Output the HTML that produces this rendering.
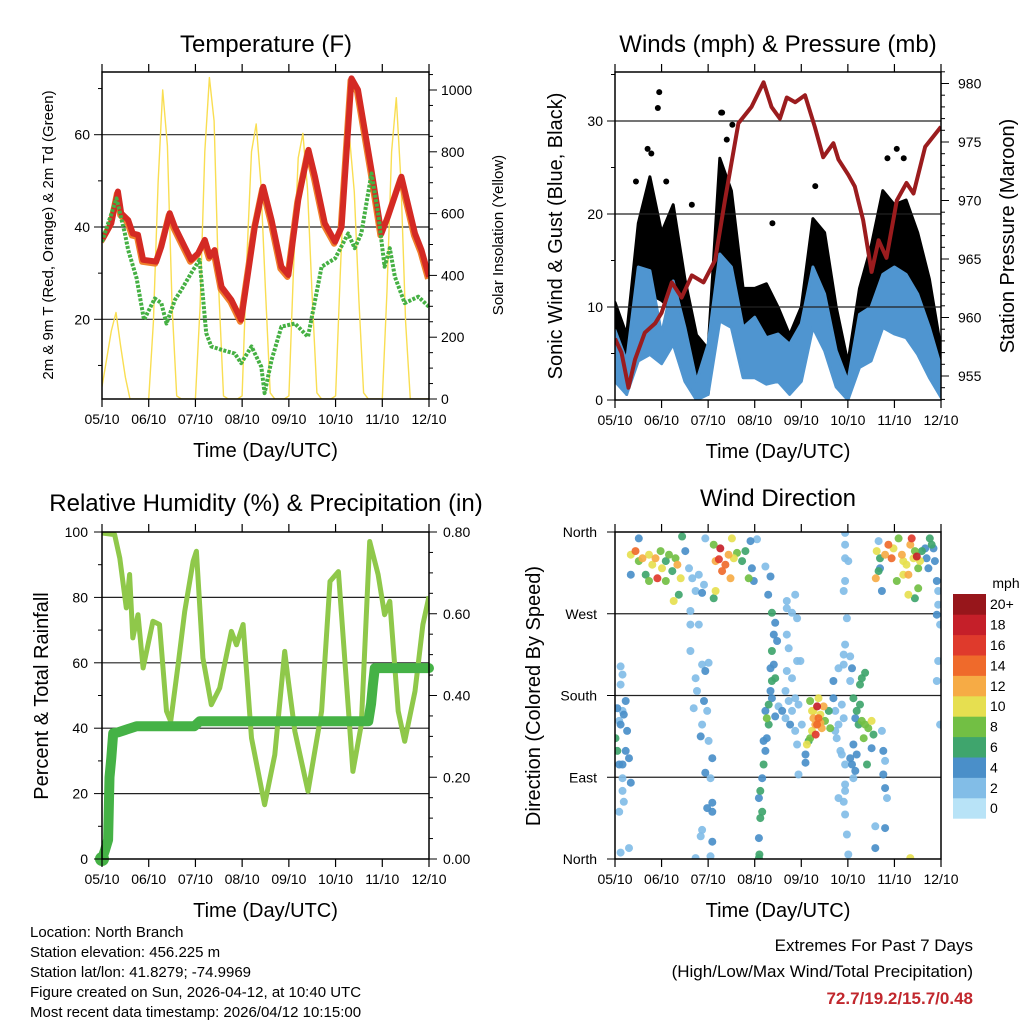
<!DOCTYPE html>
<html><head><meta charset="utf-8">
<style>
html,body{margin:0;padding:0;background:#fff;}
svg{display:block;font-family:"Liberation Sans",sans-serif;}
</style></head>
<body>
<svg id="chart" width="1024" height="1024" viewBox="0 0 1024 1024" xmlns="http://www.w3.org/2000/svg">
<defs>
<clipPath id="c1"><rect x="102" y="72" width="327" height="327"/></clipPath>
<clipPath id="c2"><rect x="615" y="72" width="326" height="328"/></clipPath>
<clipPath id="c3"><rect x="102" y="532" width="327" height="327"/></clipPath>
<clipPath id="c4"><rect x="615" y="532" width="326" height="327"/></clipPath>
</defs>
<g id="g1"></g>
<g id="g2"></g>
<g id="g3"></g>
<g id="g4"></g>
<g font-size="15" fill="#000">
<text x="30" y="937">Location: North Branch</text>
<text x="30" y="957">Station elevation: 456.225 m</text>
<text x="30" y="977">Station lat/lon: 41.8279; -74.9969</text>
<text x="30" y="997">Figure created on Sun, 2026-04-12, at 10:40 UTC</text>
<text x="30" y="1017">Most recent data timestamp: 2026/04/12 10:15:00</text>
</g>
<g text-anchor="end" font-size="17">
<text x="973" y="951">Extremes For Past 7 Days</text>
<text x="973" y="977">(High/Low/Max Wind/Total Precipitation)</text>
<text x="973" y="1004" font-weight="bold" fill="#c1272d">72.7/19.2/15.7/0.48</text>
</g>
</svg>
<script>
// ---------- data ----------
const xTickLabels = ["05/10","06/10","07/10","08/10","09/10","10/10","11/10","12/10"];
const tempDays = [0,0.2,0.34,0.41,0.56,0.66,0.77,0.88,1.16,1.27,1.45,1.56,1.77,1.91,2.06,2.2,2.31,2.41,2.56,2.77,2.98,3.27,3.45,3.63,3.84,3.99,4.2,4.42,4.56,4.77,4.99,5.13,5.34,5.48,5.77,5.98,6.12,6.41,6.7,6.84,7];
const tempRed = [37.2,40.8,47.7,43,41.5,38.6,38.3,32.9,32.5,35.7,43,40,35.7,32.9,34.3,37.2,33.6,35,27,24.2,19.9,40,48.7,41.5,31.4,29.6,45.8,56.7,50.9,40.8,36.8,40,72.2,69.7,52.3,38.6,42.2,50.9,38.6,35,29.2];
const dewDays = [0,0.31,0.49,0.56,0.74,0.9,1.13,1.27,1.38,1.56,1.7,1.91,2.09,2.23,2.34,2.56,2.84,2.98,3.2,3.41,3.48,3.63,3.84,4.13,4.41,4.7,4.99,5.27,5.41,5.55,5.77,5.91,6.05,6.16,6.27,6.48,6.77,7];
const dewGreen = [36.8,46.2,38.6,35,28.9,19.9,24.5,23.5,19.1,24.2,26.4,30,32.9,17,14.1,13.4,12.6,10.5,14.1,9.7,4,11.2,18.4,19.1,16.2,31.4,33.2,38.6,35.4,38.6,51.6,43,31.4,35.4,29.2,23.5,24.9,22.7];
const solarVals = [40,130,220,280,170,70,0,0,0,0,
 0,250,700,1000,820,300,10,0,0,0,
 0,300,800,1040,900,350,10,0,0,0,
 10,450,800,890,700,350,20,0,0,0,
 10,420,780,860,680,330,20,0,0,0,
 10,400,760,845,670,320,20,0,0,0,
 0,350,800,975,700,250,0,0,0,0,0];
const tempTicks = [20,40,60];
const solarTicks = [0,200,400,600,800,1000];

const windDays = [0,0.25,0.5,0.75,1,1.25,1.5,1.75,2,2.25,2.5,2.75,3,3.25,3.5,3.75,4,4.25,4.5,4.75,5,5.25,5.5,5.75,6,6.25,6.5,6.75,7];
const sustHi = [7.5,4.2,14.3,13.9,7.1,12.8,7.8,2,6,15.7,14.3,7.8,8.9,6.7,7.1,6,8.2,14.3,11.4,5.3,2,9.2,10,13.5,14.3,13.5,11.4,7.8,3.5];
const sustLo = [2,0.6,4.2,4.9,3.9,6,2,0,0.6,8.5,7.8,2.4,2.4,1.7,2,0.6,2,7.8,5.3,1.4,0,3.5,4.2,7.8,7.1,6.7,4.9,2.4,0.3];
const gustHi = [10.5,7,19,24,18,21,13,7,5.5,26,22.5,12,12,12.5,10,7,10,19.5,18,10,4,12,16.5,22.5,21,21.5,18,13,5.5];
const gustLo = [4.2,0.6,7.8,11.4,10.7,9.6,4.9,0.6,0.6,13.2,11.4,6,6,7.1,4.2,2.4,4.2,11.4,9.6,4.2,0.6,4.2,8.5,13.2,11.4,11.4,9.6,6,0.6];
const gustOutDays = [0.95,0.92,0.78,2.3,2.28,2.52,3.38,1.65,6.2,6.05,0.45,0.7,1.1,2.4,4.3,5.85];
const gustOutVals = [33.1,31.4,26.5,30.9,30.9,29.6,19,21,26,27,23.5,27,23.5,28,23,26];
const presDays = [0,0.14,0.29,0.43,0.64,0.86,1,1.22,1.43,1.65,1.9,2.15,2.36,2.65,2.93,3.19,3.36,3.54,3.69,3.87,4.08,4.29,4.47,4.69,4.8,5.01,5.15,5.33,5.51,5.66,5.83,6.05,6.26,6.41,6.66,7];
const presVals = [958.2,957,954,956.4,958.7,959.5,960.4,963,961.7,963.6,963,964.9,970,976.6,978,980.1,978,977,978.8,978.4,979,976.3,973.7,974.9,973.5,972.2,971.2,968.3,963.9,966.6,965.1,970,971.5,970.6,974.6,976.3];
const windTicks = [0,10,20,30];
const presTicks = [955,960,965,970,975,980];

const rhDays = [0,0.27,0.38,0.52,0.59,0.66,0.77,0.88,1.09,1.23,1.38,1.47,1.63,1.77,1.95,2.02,2.16,2.34,2.52,2.77,2.88,3.02,3.2,3.48,3.7,3.91,3.98,4.13,4.41,4.7,4.88,5.06,5.37,5.55,5.73,5.91,6.05,6.16,6.34,6.48,6.7,6.87,7];
const rhVals = [99.7,99.2,92,76.8,87,67.6,74.7,58.4,72.7,71.7,45.2,42.1,59.4,75.7,91,94.1,61.5,47.2,52.3,69.6,65.5,71.7,37,16.6,31.9,63.5,55.4,39,20.7,45.2,84.9,87.9,26.8,41.1,97.1,87,74.7,78.8,45.2,36,51.3,71.7,80.3];
const precDays = [0,0.06,0.13,0.16,0.2,0.24,0.35,0.74,1.98,2.09,5.7,5.76,5.8,5.84,7];
const precVals = [0.0,0.02,0.047,0.2,0.247,0.308,0.31,0.325,0.325,0.337,0.337,0.38,0.426,0.467,0.467];
const rhTicks = [0,20,40,60,80,100];
const precTicks = ["0.00","0.20","0.40","0.60","0.80"];

const dirTickLabels = ["North","West","South","East","North"];
const dirDay = [
 0.34,0.44,0.51,0.59,0.73,0.8,0.87,0.91,0.98,1.01,1.09,1.16,1.23,1.3,1.34,1.41,1.37,1.26,1.51,1.59,1.66,1.73,1.8,1.91,1.62,1.8,1.94,0.51,1.44,0.34,0.66,0.73,1.09,1.87,
 2.12,2.16,2.23,2.3,2.26,2.37,2.44,2.48,2.51,2.55,2.62,2.73,2.8,2.91,2.94,2.98,3.05,2.16,2.12,2.87,3.23,3.34,3.29,
 1.62,1.87,1.94,1.73,2.01,1.62,1.76,1.69,1.91,1.98,1.87,1.84,2.01,2.09,2.05,1.94,1.98,2.09,2.09,1.87,2.09,2.05,1.84,1.73,
 0.05,0.09,0.01,0.05,0.12,0.23,0.19,0.26,0.3,0.16,0.09,0.23,0.12,0.16,0.12,0.16,0.16,0.19,0.09,0.12,0.3,0.34,0.16,
 3.09,3.1,3.09,3.12,3.16,3.09,3.12,3.16,3.19,3.23,3.26,3.3,3.23,3.3,3.34,3.37,3.34,3.41,3.44,3.37,3.41,3.37,3.44,3.48,3.26,3.19,3.44,3.37,3.51,3.59,
 3.66,3.73,3.8,3.87,3.94,4.01,3.69,3.8,3.91,3.98,3.69,3.73,3.69,3.8,3.87,3.91,3.69,3.66,3.76,3.87,3.91,4.09,4.09,3.94,
 4.19,4.26,4.34,4.37,4.3,4.41,4.23,4.31,4.44,4.19,4.12,4.16,4.51,4.59,4.62,4.48,4.37,4.26,4.34,4.23,4.41,
 4.69,4.73,4.8,4.76,4.84,4.87,4.73,4.91,4.87,4.69,4.8,4.91,4.94,4.94,4.91,4.94,4.98,5.01,4.8,4.94,4.94,4.91,5.05,4.98,4.91,4.94,4.94,4.94,5.01,4.94,5.09,5.05,
 5.12,5.19,5.26,5.3,5.37,5.44,5.51,5.55,5.34,5.23,5.16,5.26,5.3,5.37,5.12,5.19,5.09,5.16,5.41,5.51,5.73,5.76,5.8,5.76,5.8,5.84,5.59,5.8,5.59,5.05,5.12,
 5.62,5.69,5.8,5.87,5.94,5.98,6.09,6.16,6.19,6.26,6.3,6.34,6.37,6.41,6.44,6.48,6.51,6.55,6.59,6.66,6.69,6.73,6.76,6.8,6.84,6.87,6.91,6.94,6.94,6.91,6.98,6.3,6.44,6.51,5.6,5.73,5.66,5.69,6.05,6.19,6.94,6.91,6.98,6.34,5.66];
const dirDeg = [
 335,339,328,331,335,324,331,309,339,320,328,335,317,331,324,309,291,284,339,320,309,295,313,302,273,258,353,353,355,313,313,306,306,293,
 346,328,330,317,342,324,335,309,353,331,337,328,339,350,320,306,352,295,287,309,322,311,291,
 258,214,207,199,216,229,185,166,174,163,148,135,130,111,89,95,56,52,62,32,19,3,25,1,
 166,152,133,119,148,174,159,141,111,104,104,119,212,203,192,89,75,63,52,7,12,84,163,
 1,5,23,45,52,67,75,89,104,119,133,148,163,170,185,196,210,214,199,229,247,271,260,240,155,130,157,177,168,163,
 185,174,163,177,170,148,207,199,218,218,247,232,276,271,291,265,284,155,148,141,126,115,106,93,
 174,163,168,155,148,159,141,137,144,133,126,130,152,163,144,168,177,155,148,163,150,
 177,163,148,133,119,170,141,155,115,196,210,214,82,75,63,49,27,5,67,104,236,225,223,265,295,306,331,346,328,359,210,196,
 177,163,170,152,148,144,152,137,133,148,155,192,199,205,126,115,104,97,104,122,141,119,108,93,78,67,36,34,12,111,89,
 339,331,335,346,331,342,353,335,328,324,313,346,353,331,339,333,320,328,339,342,331,320,353,346,342,328,306,295,280,269,258,291,287,298,309,295,350,320,306,313,218,196,148,1,317];
const dirSpd = [
 10,14,8,12,10,10,12,16,8,10,6,8,6,8,12,10,6,10,4,2,2,2,2,2,2,2,2,4,6,4,6,8,8,4,
 8,12,16,14,18,14,12,12,10,10,8,6,6,4,4,4,2,10,6,8,2,4,4,
 2,2,4,2,2,2,2,2,4,2,2,4,2,4,2,4,4,4,4,2,4,2,2,2,
 4,2,6,6,4,4,4,4,4,4,4,4,2,2,2,2,2,2,2,2,2,4,2,
 6,6,4,6,6,4,6,4,6,4,4,6,4,6,4,6,4,4,6,6,4,6,4,4,8,4,4,4,2,4,
 2,2,2,2,2,2,2,2,2,2,2,2,2,2,2,2,2,2,4,2,2,4,4,2,
 8,10,18,14,12,10,10,16,12,8,10,6,8,6,8,12,10,12,14,10,12,
 4,2,2,2,2,2,2,2,2,4,2,2,2,2,2,2,2,2,2,2,2,2,2,2,2,2,2,2,2,2,4,2,
 6,6,6,8,8,8,10,6,8,6,4,6,6,6,4,4,4,4,6,4,2,4,2,4,4,2,2,4,4,4,2,
 10,6,12,14,14,10,8,12,10,10,12,12,16,10,8,18,8,10,6,4,4,4,6,6,4,4,4,2,2,4,2,10,6,8,12,4,2,4,8,10,2,2,2,10,6];
const speedLabels = ["0","2","4","6","8","10","12","14","16","18","20+"];
const speedColors = ["#b8e3f7","#82bde7","#4a8fc9","#3fa56d","#72bf44","#e6df50","#f6ab45","#ef6a2b","#df3a2c","#c51f29","#97161b"];

// ---------- helpers ----------
const NS = "http://www.w3.org/2000/svg";
function mk(tag, attrs, parent) {
  const el = document.createElementNS(NS, tag);
  for (const k in attrs) el.setAttribute(k, attrs[k]);
  parent.appendChild(el);
  return el;
}
function txt(parent, x, y, s, size, anchor, rot) {
  const t = mk("text", {x: x, y: y, "font-size": size, "text-anchor": anchor || "middle"}, parent);
  if (rot) t.setAttribute("transform", "rotate(-90 " + x + " " + y + ")");
  t.textContent = s;
  return t;
}
function linePath(xs, ys, fx, fy) {
  let d = "";
  for (let i = 0; i < xs.length; i++) d += (i ? "L" : "M") + fx(xs[i]).toFixed(1) + " " + fy(ys[i]).toFixed(1);
  return d;
}
function frame(g, L, T, W, H, name) {
  const r = mk("rect", {x: L, y: T, width: W, height: H, fill: "none", stroke: "#000", "stroke-width": 1.5}, g);
  
  
}
function xAxis(g, L, T, W, H, name) {
  for (let i = 0; i < 8; i++) {
    const x = L + i * W / 7;
    const t1 = mk("line", {x1: x, x2: x, y1: T - 8, y2: T, stroke: "#000", "stroke-width": 1.2}, g);
    
    
    const t2 = mk("line", {x1: x, x2: x, y1: T + H, y2: T + H + 8, stroke: "#000", "stroke-width": 1.2}, g);
    
    
    const lab = txt(g, x, T + H + 25, xTickLabels[i], 14);
    
    
  }
  const at = txt(g, L + W / 2, T + H + 58, "Time (Day/UTC)", 20);
  
  
}
function hgrid(g, L, W, y, name) {
  const l = mk("line", {x1: L, x2: L + W, y1: y, y2: y, stroke: "#222", "stroke-width": 1.2}, g);
  
  
}
function ytick(g, x, y, dir, len, name) {
  const l = mk("line", {x1: x, x2: x + dir * len, y1: y, y2: y, stroke: "#000", "stroke-width": 1}, g);
  
  
}

// ---------- Panel 1 ----------
(function () {
  const g = document.getElementById("g1");
  const L = 102, T = 72, W = 327, H = 327;
  const x = d => L + d * W / 7;
  const yT = v => 319.3 - (v - 20) * 4.615;
  const yS = s => 399 - s * 0.309;
  const title = txt(g, 266, 52, "Temperature (F)", 24);
  
  
  const c = mk("g", {"clip-path": "url(#c1)"}, g);
  
  
  tempTicks.forEach(v => {
    hgrid(c, L, W, yT(v), "temperature-gridline");
  });
  const solarDays = solarVals.map((v, i) => i * 0.1);
  const sp = mk("path", {d: linePath(solarDays, solarVals, x, yS), fill: "none", stroke: "#f9de52", "stroke-width": 1.4, "stroke-linejoin": "round"}, c);
  
  
  const o = mk("path", {d: linePath(tempDays, tempRed, d => x(d) - 1, v => yT(v) + 2), fill: "none", stroke: "#f0802c", "stroke-width": 6, "stroke-linejoin": "round"}, c);
  
  
  const r = mk("path", {d: linePath(tempDays, tempRed, x, yT), fill: "none", stroke: "#d42a24", "stroke-width": 6, "stroke-linejoin": "round"}, c);
  
  
  const gr = mk("path", {d: linePath(dewDays, dewGreen, x, yT), fill: "none", stroke: "#45b043", "stroke-width": 4, "stroke-dasharray": "3 1.5", "stroke-linejoin": "round"}, c);
  
  
  frame(g, L, T, W, H, "temperature");
  xAxis(g, L, T, W, H, "temperature");
  tempTicks.forEach(v => {
    ytick(g, L, yT(v), -1, 8, "temperature-y-tick");
    const t = txt(g, L - 12, yT(v) + 5, String(v), 14, "end");
    
    
  });
  for (let v = 10; v <= 70; v += 10) if (v % 20) ytick(g, L, yT(v), -1, 4, "temperature-y-minor-tick");
  for (let s = 0; s <= 1050; s += 50) ytick(g, L + W, yS(s), 1, s % 200 ? 4 : 8, "solar-y-tick");
  solarTicks.forEach(s => {
    const t = txt(g, L + W + 12, yS(s) + 5, String(s), 14, "start");
    
    
  });
  const lt = txt(g, 53, 235, "2m & 9m T (Red, Orange) & 2m Td (Green)", 15, "middle", true);
  
  
  const rt = txt(g, 503, 235, "Solar Insolation (Yellow)", 15, "middle", true);
  
  
})();

// ---------- Panel 2 ----------
(function () {
  const g = document.getElementById("g2");
  const L = 615, T = 72, W = 326, H = 328;
  const x = d => L + d * W / 7;
  const yW = v => 400 - v * 9.3;
  const yP = p => 376 - (p - 955) * 11.7;
  const title = txt(g, 778, 52, "Winds (mph) & Pressure (mb)", 24);
  
  
  const c = mk("g", {"clip-path": "url(#c2)"}, g);
  
  
  function band(hi, lo, color, name) {
    let d = "";
    windDays.forEach((t, i) => d += (i ? "L" : "M") + x(t).toFixed(1) + " " + yW(hi[i]).toFixed(1));
    for (let i = windDays.length - 1; i >= 0; i--) d += "L" + x(windDays[i]).toFixed(1) + " " + yW(lo[i]).toFixed(1);
    const p = mk("path", {d: d + "Z", fill: color, stroke: color, "stroke-width": 3, "stroke-linejoin": "round"}, c);
    
    
  }
  band(gustHi, gustLo, "#000", "gust-cloud");
  gustOutDays.forEach((d, i) => {
    const dot = mk("circle", {cx: x(d), cy: yW(gustOutVals[i]), r: 3, fill: "#000"}, c);
    
    
  });
  band(sustHi, sustLo, "#4f95d0", "sustained-wind-band");
  windTicks.forEach(v => { if (v > 0) hgrid(c, L, W, yW(v), "winds-gridline"); });
  const p = mk("path", {d: linePath(presDays, presVals, x, yP), fill: "none", stroke: "#9b1c1e", "stroke-width": 4, "stroke-linejoin": "round"}, c);
  
  
  frame(g, L, T, W, H, "winds");
  xAxis(g, L, T, W, H, "winds");
  windTicks.forEach(v => {
    ytick(g, L, yW(v), -1, 8, "wind-y-tick");
    const t = txt(g, L - 12, yW(v) + 5, String(v), 14, "end");
    
    
  });
  for (let v = 5; v <= 35; v += 10) ytick(g, L, yW(v), -1, 4, "wind-y-minor-tick");
  for (let pp = 953; pp <= 981; pp++) ytick(g, L + W, yP(pp), 1, pp % 5 ? 4 : 8, "pressure-y-tick");
  presTicks.forEach(pp => {
    const t = txt(g, L + W + 17, yP(pp) + 5, String(pp), 14, "start");
    
    
  });
  const lt = txt(g, 562, 236, "Sonic Wind & Gust (Blue, Black)", 20, "middle", true);
  
  
  const rt = txt(g, 1014, 236, "Station Pressure (Maroon)", 20, "middle", true);
  
  
})();

// ---------- Panel 3 ----------
(function () {
  const g = document.getElementById("g3");
  const L = 102, T = 532, W = 327, H = 327;
  const x = d => L + d * W / 7;
  const yR = v => 859 - v * 3.27;
  const yPr = p => 859 - p * 408.75;
  const title = txt(g, 266, 511, "Relative Humidity (%) & Precipitation (in)", 24);
  
  
  const c = mk("g", {"clip-path": "url(#c3)"}, g);
  
  
  rhTicks.forEach(v => { if (v > 0 && v < 100) hgrid(c, L, W, yR(v), "humidity-gridline"); });
  const rh = mk("path", {d: linePath(rhDays, rhVals, x, yR), fill: "none", stroke: "#8fc84a", "stroke-width": 5, "stroke-linejoin": "round"}, c);
  
  
  const pr = mk("path", {d: linePath(precDays, precVals, x, yPr), fill: "none", stroke: "#45b246", "stroke-width": 10, "stroke-linejoin": "round", "stroke-linecap": "round"}, g);
  
  
  const st = mk("circle", {cx: x(precDays[0]), cy: yPr(precVals[0]), r: 7, fill: "#45b246"}, g);
  
  
  frame(g, L, T, W, H, "humidity");
  xAxis(g, L, T, W, H, "humidity");
  rhTicks.forEach(v => {
    ytick(g, L, yR(v), -1, 8, "humidity-y-tick");
    const t = txt(g, L - 14, yR(v) + 5, String(v), 14, "end");
    
    
  });
  for (let v = 10; v <= 90; v += 20) ytick(g, L, yR(v), -1, 4, "humidity-y-minor-tick");
  for (let k = 0; k <= 16; k++) ytick(g, L + W, yPr(k * 0.05), 1, k % 4 ? 4 : 8, "precip-y-tick");
  precTicks.forEach(s => {
    const t = txt(g, L + W + 14, yPr(parseFloat(s)) + 5, s, 14, "start");
    
    
  });
  const lt = txt(g, 48, 696, "Percent & Total Rainfall", 20, "middle", true);
  
  
})();

// ---------- Panel 4 ----------
(function () {
  const g = document.getElementById("g4");
  const L = 615, T = 532, W = 326, H = 327;
  const x = d => L + d * W / 7;
  const yD = deg => T + (360 - deg) / 360 * H;
  const title = txt(g, 778, 506, "Wind Direction", 24);
  
  
  const c = mk("g", {"clip-path": "url(#c4)"}, g);
  
  
  [270, 180, 90].forEach(dg => hgrid(c, L, W, yD(dg), "direction-gridline"));
  const n = Math.min(dirDay.length, dirDeg.length, dirSpd.length);
  const order = [];
  for (let i = 0; i < n; i++) order.push(i);
  order.sort((a, b) => dirSpd[a] - dirSpd[b]);
  order.forEach(i => {
    const bin = Math.min(10, Math.floor(dirSpd[i] / 2));
    const dot = mk("circle", {cx: x(dirDay[i]).toFixed(1), cy: yD(dirDeg[i]).toFixed(1), r: 4, fill: speedColors[bin], "fill-opacity": 0.92}, c);
    
    
  });
  frame(g, L, T, W, H, "wind-direction");
  xAxis(g, L, T, W, H, "wind-direction");
  dirTickLabels.forEach((s, i) => {
    const y = T + i * H / 4;
    ytick(g, L, y, -1, 8, "direction-y-tick");
    const t = txt(g, L - 18, y + 5, s, 14, "end");
    
    
  });
  const lt = txt(g, 540, 696, "Direction (Colored By Speed)", 20, "middle", true);
  
  
  const cb = mk("g", {}, g);
  
  
  const unit = txt(cb, 1006, 588, "mph", 14);
  
  
  const bh = 20.4;
  for (let k = 0; k < speedColors.length; k++) {
    const y = 594 + (10 - k) * bh;
    const r = mk("rect", {x: 953, y: y, width: 33, height: bh + 0.3, fill: speedColors[k]}, cb);
    
    
    const t = txt(cb, 990, y + bh / 2 + 5, speedLabels[k], 14, "start");
    
    
  }
})();
</script>
</body></html>
